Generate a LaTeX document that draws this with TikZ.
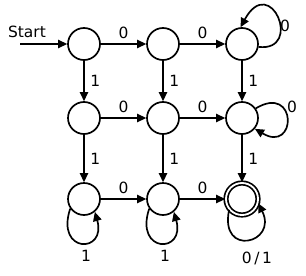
\documentclass[tikz,border=0pt]{standalone}
\usepackage{fontspec}
\setmainfont{DejaVu Sans}
\usetikzlibrary{arrows.meta, positioning}

\begin{document}
\begin{tikzpicture}[
    x=0.025cm, y=-0.025cm,
    % Styles
    state/.style={circle, draw, line width=1.2pt, minimum size=0.8cm, inner sep=0pt},
    accept/.style={state, double, double distance=1.3pt},
    arrow/.style={-{Triangle[length=6.5pt, width=6pt]}, line width=1.2pt},
    lbl/.style={font=\fontsize{11}{13}\selectfont, inner sep=1pt},
]
\useasboundingbox (0,0) rectangle (306,275);

% === STATES ===
\node[state] (q00) at (84,44) {};
\node[state] (q01) at (163,44) {};
\node[state] (q02) at (242,44) {};
\node[state] (q10) at (84,118) {};
\node[state] (q11) at (163,118) {};
\node[state] (q12) at (242,118) {};
\node[state] (q20) at (84,199) {};
\node[state] (q21) at (163,199) {};
\node[accept] (q22) at (242,199) {};

% Start
\node[lbl] (start) at (27,32) {Start};
\coordinate (startpt) at (20,44);
\draw[arrow] (startpt) -- (q00);

% Horizontal arrows
\draw[arrow] (q00) -- node[lbl, above=2pt] {0} (q01);
\draw[arrow] (q01) -- node[lbl, above=2pt] {0} (q02);
\draw[arrow] (q10) -- node[lbl, above=2pt] {0} (q11);
\draw[arrow] (q11) -- node[lbl, above=2pt] {0} (q12);
\draw[arrow] (q20) -- node[lbl, above=2pt] {0} (q21);
\draw[arrow] (q21) -- node[lbl, above=2pt] {0} (q22);

% Vertical arrows
\draw[arrow] (q00) -- node[lbl, right=3pt] {1} (q10);
\draw[arrow] (q01) -- node[lbl, right=3pt] {1} (q11);
\draw[arrow] (q02) -- node[lbl, right=3pt] {1} (q12);
\draw[arrow] (q10) -- node[lbl, right=3pt] {1} (q20);
\draw[arrow] (q11) -- node[lbl, right=3pt] {1} (q21);
\draw[arrow] (q12) -- node[lbl, right=3pt] {1} (q22);

% Self loops
\draw[arrow] (q02.-10) .. controls +(45,5) and +(30,-55) .. (q02.95);
\node[lbl] (l02) at (285,26) {0};
\draw[arrow] (q12.35) .. controls +(42,-25) and +(42,25) .. (q12.-40);
\node[lbl] (l12) at (292,107) {0};
\draw[arrow] (q20.-145) .. controls +(-15,45) and +(12,42) .. (q20.-50);
\node[lbl] (l20) at (86,256) {1};
\draw[arrow] (q21.-145) .. controls +(-15,45) and +(12,42) .. (q21.-50);
\node[lbl] (l21) at (165,256) {1};
\draw[arrow] (q22.-140) .. controls +(-10,48) and +(20,40) .. (q22.-15);
\node[lbl] (l22) at (257,258) {0\,/\,1};

\end{tikzpicture}
\end{document}
